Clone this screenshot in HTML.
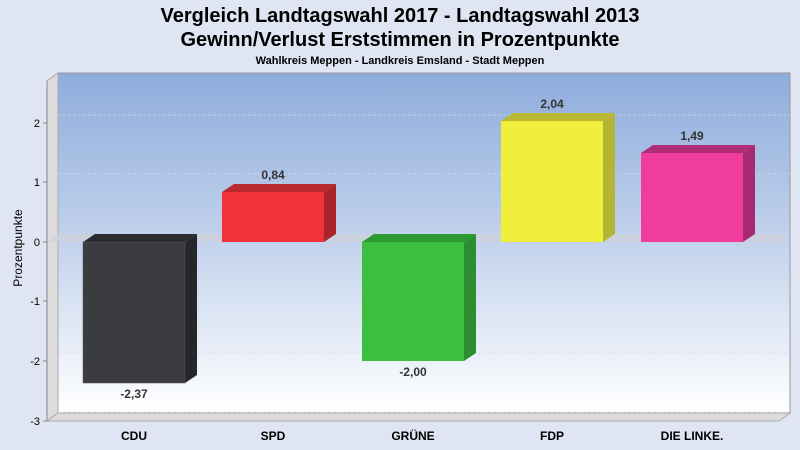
<!DOCTYPE html>
<html><head><meta charset="utf-8"><style>
body{margin:0;background:#dfe5f3;}
svg{display:block;font-family:"Liberation Sans",sans-serif;}
</style></head><body>
<svg width="800" height="450" viewBox="0 0 800 450">
<defs>
<linearGradient id="bg" x1="0" y1="0" x2="0" y2="1">
<stop offset="0" stop-color="#8eacdc"/><stop offset="0.5" stop-color="#c3d3ec"/><stop offset="1" stop-color="#ffffff"/>
</linearGradient>
</defs>
<rect width="800" height="450" fill="#dfe5f3"/>
<text x="400" y="22" font-size="20" font-weight="bold" text-anchor="middle" fill="#000">Vergleich Landtagswahl 2017 - Landtagswahl 2013</text>
<text x="400" y="46" font-size="20" font-weight="bold" text-anchor="middle" fill="#000">Gewinn/Verlust Erststimmen in Prozentpunkte</text>
<text x="400" y="64" font-size="11" font-weight="bold" text-anchor="middle" fill="#000">Wahlkreis Meppen - Landkreis Emsland - Stadt Meppen</text>
<rect x="58" y="73" width="732" height="340" fill="url(#bg)" stroke="#999" stroke-width="1"/>
<polygon points="47,81 58,73 58,413 47,421" fill="#dcdcdc" stroke="#aaa" stroke-width="1"/>
<polygon points="47,421 58,413 790,413 779,421" fill="#dcdcdc" stroke="#aaa" stroke-width="1"/>
<g stroke="#d6dce6" stroke-dasharray="3,2" stroke-width="1" opacity="0.7">
<line x1="58" y1="115" x2="790" y2="115"/><line x1="58" y1="174" x2="790" y2="174"/>
<line x1="58" y1="293" x2="790" y2="293"/><line x1="58" y1="353" x2="790" y2="353"/>
<line x1="58" y1="412" x2="790" y2="412"/>
<line x1="47" y1="123" x2="58" y2="115"/><line x1="47" y1="182" x2="58" y2="174"/>
<line x1="47" y1="301" x2="58" y2="293"/><line x1="47" y1="361" x2="58" y2="353"/>
</g>
<polygon points="47,242 58,234 790,234 779,242" fill="#cdd2da" opacity="0.8"/>
<g font-size="11" fill="#000" text-anchor="end">
<text x="40" y="127">2</text><text x="40" y="186">1</text><text x="40" y="246">0</text>
<text x="40" y="305">-1</text><text x="40" y="365">-2</text><text x="40" y="425">-3</text>
</g>
<g stroke="#888"><line x1="43" y1="123" x2="47" y2="123"/><line x1="43" y1="182" x2="47" y2="182"/><line x1="43" y1="242" x2="47" y2="242"/><line x1="43" y1="301" x2="47" y2="301"/><line x1="43" y1="361" x2="47" y2="361"/><line x1="43" y1="421" x2="47" y2="421"/><line x1="47" y1="81" x2="47" y2="421"/></g>
<text transform="translate(22,248) rotate(-90)" font-size="12" text-anchor="middle" fill="#000">Prozentpunkte</text>
<polygon points="83,242 95,234 197,234 185,242" fill="#2a2c30"/>
<polygon points="185,242 197,234 197,375 185,383" fill="#25272a"/>
<rect x="83" y="242" width="102" height="141" fill="#3a3c40" stroke="#555" stroke-width="0.5"/>
<polygon points="222,192 234,184 336,184 324,192" fill="#b92a2f"/>
<polygon points="324,192 336,184 336,234 324,242" fill="#a8262a"/>
<rect x="222" y="192" width="102" height="50" fill="#ef3338"/>
<polygon points="362,242 374,234 476,234 464,242" fill="#2e9a32"/>
<polygon points="464,242 476,234 476,353 464,361" fill="#2c8e30"/>
<rect x="362" y="242" width="102" height="119" fill="#3cbf40"/>
<polygon points="501,121 513,113 615,113 603,121" fill="#b9b933"/>
<polygon points="603,121 615,113 615,234 603,242" fill="#b5b535"/>
<rect x="501" y="121" width="102" height="121" fill="#f0f03c"/>
<polygon points="641,153 653,145 755,145 743,153" fill="#b02c78"/>
<polygon points="743,153 755,145 755,234 743,242" fill="#a62a72"/>
<rect x="641" y="153" width="102" height="89" fill="#f03c9c"/>
<g font-size="12" font-weight="bold" fill="#333" text-anchor="middle">
<text x="134" y="398">-2,37</text>
<text x="273" y="179">0,84</text>
<text x="413" y="376">-2,00</text>
<text x="552" y="108">2,04</text>
<text x="692" y="140">1,49</text>
</g>
<g font-size="12" font-weight="bold" fill="#000" text-anchor="middle">
<text x="134" y="440">CDU</text><text x="273" y="440">SPD</text><text x="413" y="440">GRÜNE</text>
<text x="552" y="440">FDP</text><text x="692" y="440">DIE LINKE.</text>
</g>
</svg>
</body></html>
